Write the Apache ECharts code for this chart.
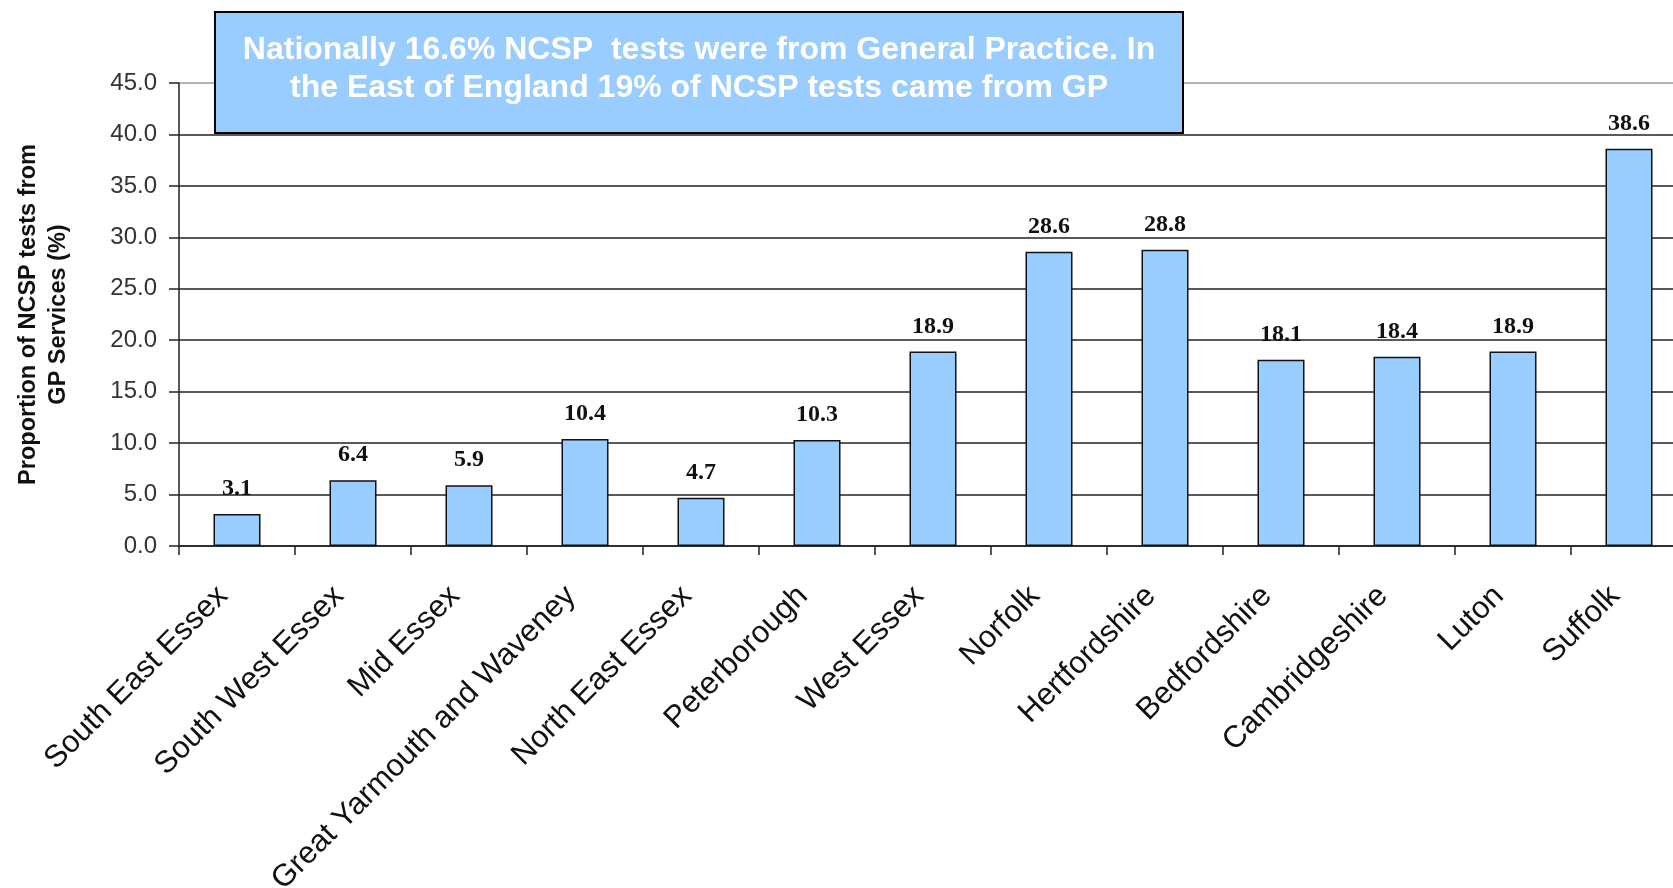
<!DOCTYPE html>
<html>
<head>
<meta charset="utf-8">
<script src="https://cdn.jsdelivr.net/npm/echarts@6/dist/echarts.min.js"></script>
<style>
  html, body { margin: 0; padding: 0; background: #ffffff; }
  #chart { width: 1673px; height: 888px; }
</style>
</head>
<body>
<div id="chart"></div>
<script>
// Areas of the East of England
const areas = [
  'South East Essex', 'South West Essex', 'Mid Essex', 'Great Yarmouth and Waveney',
  'North East Essex', 'Peterborough', 'West Essex', 'Norfolk', 'Hertfordshire',
  'Bedfordshire', 'Cambridgeshire', 'Luton', 'Suffolk'
];
// Share of NCSP tests that came from GP services (%)
const gpShare = [3.1, 6.4, 5.9, 10.4, 4.7, 10.3, 18.9, 28.6, 28.8, 18.1, 18.4, 18.9, 38.6];
// Value axis range
const yMin = 0, yMax = 45, yStep = 5;
const yAxisTitle = 'Proportion of NCSP tests from\nGP Services (%)';
const noteLines = [
  'Nationally 16.6% NCSP  tests were from General Practice. In',
  'the East of England 19% of NCSP tests came from GP'
];

// Gridlines are dark, except the top one which is a lighter grey
const gridColors = [];
for (let v = yMin; v <= yMax; v += yStep) gridColors.push(v === yMax ? '#9a9a9a' : '#222');

const chart = echarts.init(document.getElementById('chart'));
chart.setOption({
  backgroundColor: '#ffffff',
  animation: false,
  grid: { left: 179, top: 83, width: 1508, bottom: 342, containLabel: false, outerBoundsMode: 'none' },
  xAxis: {
    type: 'category',
    data: areas,
    boundaryGap: true,
    axisLine: { lineStyle: { color: '#222', width: 1.5 } },
    axisTick: { show: true, alignWithLabel: false, length: 9, lineStyle: { color: '#222', width: 1.5 } },
    axisLabel: {
      interval: 0,
      rotate: 45,
      margin: 31,
      padding: [0, 20, 0, 0],
      color: '#111',
      fontFamily: 'Liberation Sans, Arial, sans-serif',
      fontSize: 31
    }
  },
  yAxis: {
    type: 'value',
    min: yMin, max: yMax, interval: yStep,
    name: yAxisTitle,
    nameLocation: 'middle',
    nameGap: 105,
    nameRotate: 90,
    nameTextStyle: {
      color: '#111',
      fontWeight: 'bold',
      fontFamily: 'Liberation Sans, Arial, sans-serif',
      fontSize: 23.5,
      lineHeight: 30
    },
    axisLine: { show: true, lineStyle: { color: '#222', width: 1.5 } },
    axisTick: { show: true, inside: false, length: 10, lineStyle: { color: '#222', width: 1.5 } },
    splitLine: { show: true, lineStyle: { color: gridColors, width: 1.5 } },
    axisLabel: {
      margin: 22,
      color: '#333',
      fontFamily: 'Liberation Sans, Arial, sans-serif',
      fontSize: 24,
      formatter: v => v.toFixed(1)
    }
  },
  series: [{
    type: 'bar',
    data: gpShare,
    barWidth: 47,
    itemStyle: { color: '#99CCFF', borderColor: '#111', borderWidth: 1.5 },
    label: {
      show: true,
      position: 'top',
      distance: 13,
      color: '#111',
      fontWeight: 'bold',
      fontFamily: 'Liberation Serif, Times New Roman, serif',
      fontSize: 24,
      formatter: p => p.value.toFixed(1)
    }
  }],
  graphic: [{
    type: 'group',
    left: 214,
    top: 11,
    z: 100,
    children: [
      {
        type: 'rect',
        z: 100,
        shape: { x: 0, y: 0, width: 968, height: 121 },
        style: { fill: '#99CCFF', stroke: '#000', lineWidth: 2 }
      },
      {
        type: 'text',
        z: 101,
        x: 484,
        y: 38,
        style: {
          text: noteLines[0],
          fill: '#ffffff',
          font: 'bold 32px "Liberation Sans", Arial, sans-serif',
          align: 'center',
          verticalAlign: 'middle'
        }
      },
      {
        type: 'text',
        z: 101,
        x: 484,
        y: 76,
        style: {
          text: noteLines[1],
          fill: '#ffffff',
          font: 'bold 32px "Liberation Sans", Arial, sans-serif',
          align: 'center',
          verticalAlign: 'middle'
        }
      }
    ]
  }]
});
</script>
</body>
</html>
